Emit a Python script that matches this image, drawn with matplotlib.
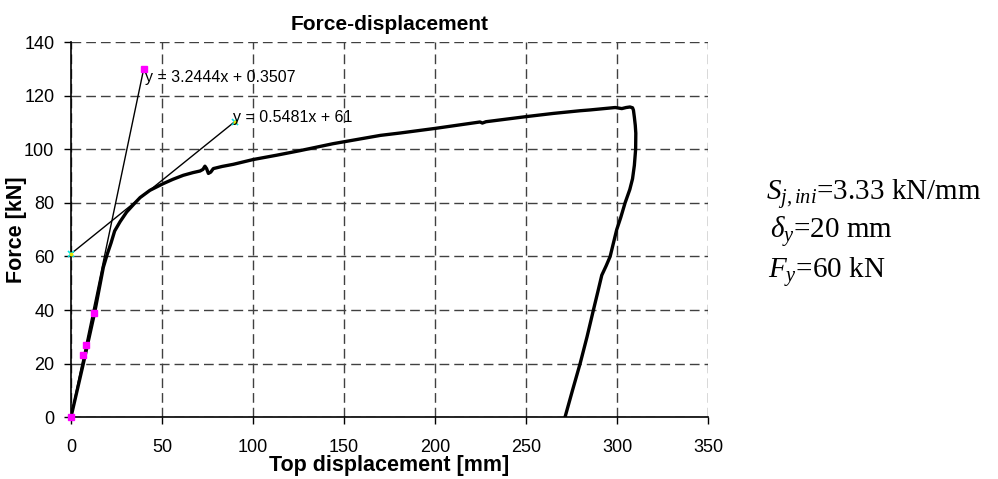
import matplotlib
matplotlib.use("Agg")
import matplotlib.pyplot as plt
import numpy as np

plt.rcParams['font.family'] = ['Liberation Sans', 'DejaVu Sans']
plt.rcParams['mathtext.fontset'] = 'custom'
plt.rcParams['mathtext.rm'] = 'Liberation Serif'
plt.rcParams['mathtext.it'] = 'Liberation Serif:italic'

# measured force-displacement curve (loading + unloading)
disp = [0, 6.8, 13, 17.8, 20, 22, 24, 27, 30.6, 34.5, 38, 43.4, 50.7, 56, 61.7,
        67, 70.9, 72.5, 73.6, 74.5, 75.5, 76.8, 78.2, 83, 89.2, 100.2, 113, 125.8,
        144, 170, 181, 200, 224.7, 226, 228, 250, 265, 279.7, 285.2, 299, 302.6,
        305, 307.1, 308.5, 309, 309.5, 310, 310.3, 310.2, 309.5, 308.5, 307, 304.4,
        302, 299.8, 298, 296.2, 294, 291.6, 289.5, 287, 283.5, 279.7, 275.5, 271.4]
force = [0, 20, 39, 56, 61, 65, 69.5, 73, 76.6, 79.5, 82, 84.7, 87.2, 88.8, 90.3,
         91.3, 91.9, 92.5, 93.7, 92.8, 91, 91.5, 92.8, 93.6, 94.4, 96.2, 97.8, 99.5,
         102.1, 105.2, 106.1, 107.8, 110.2, 109.8, 110.3, 112.2, 113.4, 114.4, 114.7,
         115.6, 115.2, 115.6, 115.8, 115.5, 114.6, 112, 109, 106, 100, 94, 89, 85, 80,
         74.5, 70, 65, 60, 56.5, 53, 47, 40, 30, 20, 10, 0]

# points used for the initial stiffness fit
fit_x = [0, 6.8, 8.2, 12.5]
fit_y = [0, 23.1, 27.1, 38.9]

# trend lines
k1, b1, x1_end = 3.2444, 0.3507, 40
k2, b2, x2_end = 0.5481, 61, 90

fig = plt.figure(figsize=(9.98, 4.79), dpi=100)
ax = fig.add_axes([0.0711, 0.129, 0.6384, 0.783])

ax.plot(disp, force, color='black', lw=2.4, solid_joinstyle='round', zorder=3)

t1 = np.array([0, x1_end])
ax.plot(t1, k1 * t1 + b1, color='black', lw=1.0, zorder=4)
t2 = np.array([0, x2_end])
ax.plot(t2, k2 * t2 + b2, color='black', lw=1.0, zorder=4)

ax.plot(fit_x + [x1_end], fit_y + [k1 * x1_end + b1], ls='none', marker='s',
        ms=4.5, color='#FF00FF', zorder=5, clip_on=False)
ax.plot(t2, k2 * t2 + b2, ls='none', marker='x', ms=4, mew=1.2,
        color='#00E5E5', zorder=5, clip_on=False)
ax.plot(t2, k2 * t2 + b2, ls='none', marker='o', ms=1.8,
        color='#E5E500', zorder=6, clip_on=False)

ax.text(40.7, 125.1, 'y = 3.2444x + 0.3507', fontsize=11.5, va='baseline', ha='left', zorder=6)
ax.text(89.2, 110.2, 'y = 0.5481x + 61', fontsize=11.5, va='baseline', ha='left', zorder=6)

ax.set_xlim(0, 350)
ax.set_ylim(0, 140)
ax.set_xticks(np.arange(0, 351, 50))
ax.set_yticks(np.arange(0, 141, 20))
ax.grid(True, color='#404040', lw=1.0, ls=(0, (7, 3.6)))
ax.set_axisbelow(True)
for s in ['top', 'right']:
    ax.spines[s].set_visible(False)
for s in ['left', 'bottom']:
    ax.spines[s].set_linewidth(1.2)
ax.tick_params(direction='out', length=5, width=1.0, labelsize=13)
ax.tick_params(axis='x', pad=11)
ax.tick_params(axis='y', pad=7)

ax.set_title('Force-displacement', fontsize=15, fontweight='bold', pad=9)
ax.set_xlabel('Top displacement [mm]', fontsize=15.5, fontweight='bold', labelpad=-1)
ax.set_ylabel('Force [kN]', fontsize=15.5, fontweight='bold', labelpad=-2)

fig.text(0.7675, 0.5825, r'$S_{j,ini}$=3.33 kN/mm', fontsize=21,
         family='Liberation Serif', va='baseline')
fig.text(0.772, 0.5025, r'$\delta_y$=20 mm', fontsize=21,
         family='Liberation Serif', va='baseline')
fig.text(0.7695, 0.419, r'$F_y$=60 kN', fontsize=21,
         family='Liberation Serif', va='baseline')

fig.savefig('out.png', dpi=100)
